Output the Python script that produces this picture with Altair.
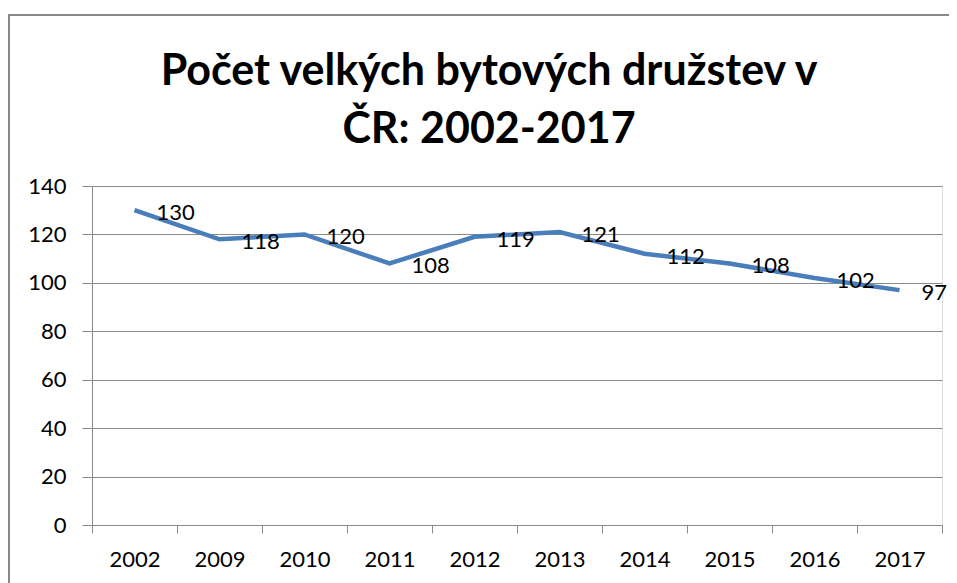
import altair as alt
import pandas as pd

years = ["2002", "2009", "2010", "2011", "2012", "2013", "2014", "2015", "2016", "2017"]
counts = [130, 118, 120, 108, 119, 121, 112, 108, 102, 97]
y_ticks = [0, 20, 40, 60, 80, 100, 120, 140]
title_lines = ["Počet velkých bytových družstev v", "ČR: 2002-2017"]

df = pd.DataFrame({"year": years, "count": counts})

FONT = "Lato"
GRID = "#8a8a8a"

x_enc = alt.X(
    "year:N",
    sort=years,
    bandPosition=0.5,
    scale=alt.Scale(type="band", paddingInner=0, paddingOuter=0),
    axis=alt.Axis(
        title=None, labelAngle=0, tickBand="extent", tickSize=8, tickColor=GRID,
        domainColor=GRID, labelFont=FONT, labelFontSize=22, labelColor="#000000",
        labelPadding=16,
    ),
)
y_enc = alt.Y(
    "count:Q",
    scale=alt.Scale(domain=[0, 140]),
    axis=alt.Axis(
        title=None, values=y_ticks, tickSize=10, tickColor=GRID, domainColor=GRID,
        gridColor=GRID, gridWidth=1, labelFont=FONT, labelFontSize=22,
        labelColor="#000000", labelPadding=16,
    ),
)

base = alt.Chart(df)
line = base.mark_line(color="#4A7EBB", strokeWidth=4.5).encode(x=x_enc, y=y_enc)
labels = base.mark_text(
    align="left", baseline="middle", dx=22, dy=3, font=FONT, fontSize=22, color="#000000"
).encode(x=x_enc, y=y_enc, text="count:Q")

frame_df = pd.DataFrame({"k": [0]})
frame_left = alt.Chart(frame_df).mark_rule(color="#888888", strokeWidth=2).encode(
    x=alt.value(-83), y=alt.value(-171), y2=alt.value(420)
)
frame_top = alt.Chart(frame_df).mark_rule(color="#888888", strokeWidth=2).encode(
    x=alt.value(-84), x2=alt.value(900), y=alt.value(-171)
)

chart = alt.layer(frame_left, frame_top, line, labels).properties(
    width=850,
    height=339,
    autosize=alt.AutoSizeParams(type="none"),
    padding={"left": 84, "top": 178, "right": 7, "bottom": 60},
    title=alt.TitleParams(
        title_lines, font=FONT, fontSize=43, fontWeight="bold", color="#000000",
        anchor="middle", dx=-28, lineHeight=58, offset=-138,
    ),
).configure_view(stroke=None).configure(background="white")

chart.save("out.html", embed_options={"renderer": "svg", "actions": False})
